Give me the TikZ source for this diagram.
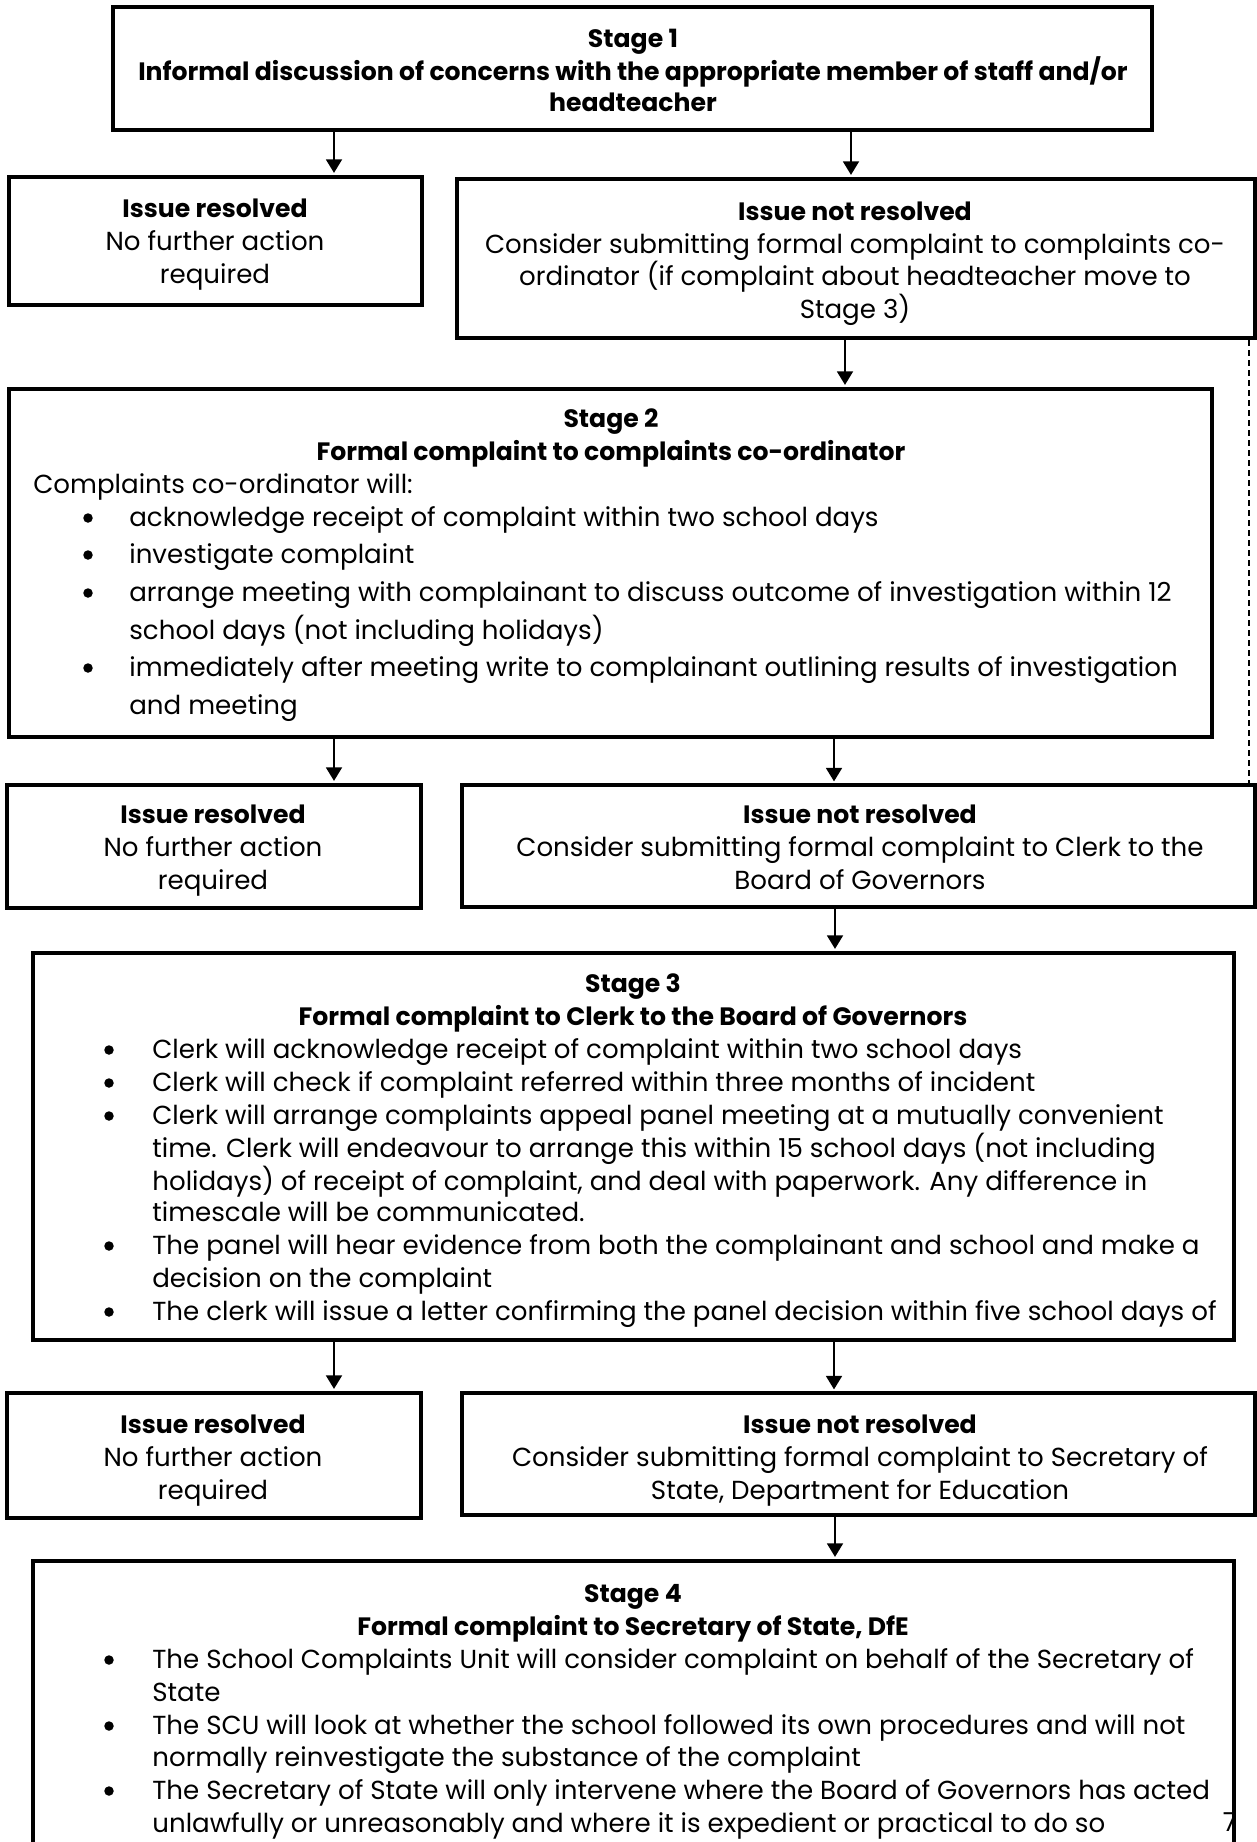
\documentclass[tikz,border=0pt]{standalone}
\usepackage{fontspec}
\setmainfont{Poppins}
\usetikzlibrary{arrows.meta,fit}
\begin{document}
\begin{tikzpicture}[x=0.02cm,y=-0.02cm,
 box/.style={draw, line width=0.085cm, inner sep=0pt},
 thinbox/.style={draw, line width=0.065cm, inner sep=0pt},
 arr/.style={-{Triangle[length=0.27cm,width=0.32cm]}, line width=0.035cm, shorten >=0.04cm},
 dashline/.style={line width=0.03cm, dash pattern=on 0.12cm off 0.08cm},
 t/.style={inner sep=0pt, anchor=base, font=\fontsize{14.85}{18}\selectfont},
 tl/.style={t, anchor=base west},
 tb/.style={t, font=\fontsize{14.3}{18}\selectfont\bfseries},
 bul/.style={circle, fill, inner sep=0pt, minimum size=0.19cm, yshift=0.16cm},
]
\useasboundingbox (0,0) rectangle (1257,1842);
\clip (0,0) rectangle (1257,1842);

% boxes
\node[box, fit={(113,7) (1152,130)}] (s1) {};
\node[box, fit={(9,177) (422,305)}] (r1) {};
\node[box, fit={(457,179) (1255,338)}] (n1) {};
\node[box, fit={(9,389) (1212,737)}] (s2) {};
\node[box, fit={(7,785) (421,908)}] (r2) {};
\node[thinbox, fit={(462,785) (1255,907)}] (n2) {};
\node[box, fit={(33,953) (1234,1340)}] (s3) {};
\node[box, fit={(7,1393) (421,1518)}] (r3) {};
\node[thinbox, fit={(462,1393) (1255,1515)}] (n3) {};
\node[box, fit={(33,1561) (1234,1900)}] (s4) {};

% connector columns
\coordinate (xa) at (334,0);
\coordinate (xb) at (851,0);
\coordinate (xc) at (845,0);
\coordinate (xd) at (834,0);
\coordinate (xe) at (835,0);
\coordinate (xf) at (1249,0);

\draw[arr] (s1.south -| xa) -- (r1.north -| xa);
\draw[arr] (s1.south -| xb) -- (n1.north -| xb);
\draw[arr] (n1.south -| xc) -- (s2.north -| xc);
\draw[arr] (s2.south -| xa) -- (r2.north -| xa);
\draw[arr] (s2.south -| xd) -- (n2.north -| xd);
\draw[arr] (n2.south -| xe) -- (s3.north -| xe);
\draw[arr] (s3.south -| xa) -- (r3.north -| xa);
\draw[arr] (s3.south -| xd) -- (n3.north -| xd);
\draw[arr] (n3.south -| xe) -- (s4.north -| xe);
\draw[dashline] (n1.south -| xf) -- (n2.north -| xf);

% Stage 1
\node[tb] (s1a) at (633,48) {Stage 1};
\node[tb] (s1b) at (633,81) {Informal discussion of concerns with the appropriate member of staff and/or};
\node[tb] (s1c) at (633,112) {headteacher};

% resolved / not resolved 1
\node[tb] (r1a) at (215,217) {Issue resolved};
\node[t] (r1b) at (215,250) {No further action};
\node[t] (r1c) at (215,283) {required};
\node[tb] (n1a) at (855,220) {Issue not resolved};
\node[t] (n1b) at (855,253) {Consider submitting formal complaint to complaints co-};
\node[t] (n1c) at (855,285) {ordinator (if complaint about headteacher move to};
\node[t] (n1d) at (855,318) {Stage 3)};

% Stage 2
\node[tb] (s2a) at (611,427) {Stage 2};
\node[tb] (s2b) at (611,460) {Formal complaint to complaints co-ordinator};
\node[tl] (s2c) at (33,493) {Complaints co-ordinator will:};
\node[bul] (s2p1) at (88,526) {};
\node[bul] (s2p2) at (88,563) {};
\node[bul] (s2p3) at (88,601) {};
\node[bul] (s2p4) at (88,676) {};
\node[tl] (s2d) at (129,526) {acknowledge receipt of complaint within two school days};
\node[tl] (s2e) at (129,563) {investigate complaint};
\node[tl] (s2f) at (129,601) {arrange meeting with complainant to discuss outcome of investigation within 12};
\node[tl] (s2g) at (129,639) {school days (not including holidays)};
\node[tl] (s2h) at (129,676) {immediately after meeting write to complainant outlining results of investigation};
\node[tl] (s2i) at (129,714) {and meeting};

% resolved / not resolved 2
\node[tb] (r2a) at (213,823) {Issue resolved};
\node[t] (r2b) at (213,856) {No further action};
\node[t] (r2c) at (213,889) {required};
\node[tb] (n2a) at (860,823) {Issue not resolved};
\node[t] (n2b) at (860,856) {Consider submitting formal complaint to Clerk to the};
\node[t] (n2c) at (860,889) {Board of Governors};

% Stage 3
\node[tb] (s3a) at (633,992) {Stage 3};
\node[tb] (s3b) at (633,1025) {Formal complaint to Clerk to the Board of Governors};
\node[bul] (s3p1) at (109,1058) {};
\node[bul] (s3p2) at (109,1091) {};
\node[bul] (s3p3) at (109,1124) {};
\node[bul] (s3p4) at (109,1254) {};
\node[bul] (s3p5) at (109,1320) {};
\node[tl] (s3c) at (152,1058) {Clerk will acknowledge receipt of complaint within two school days};
\node[tl] (s3d) at (152,1091) {Clerk will check if complaint referred within three months of incident};
\node[tl] (s3e) at (152,1124) {Clerk will arrange complaints appeal panel meeting at a mutually convenient};
\node[tl] (s3f) at (152,1157) {time. Clerk will endeavour to arrange this within 15 school days (not including};
\node[tl] (s3g) at (152,1190) {holidays) of receipt of complaint, and deal with paperwork. Any difference in};
\node[tl] (s3h) at (152,1221) {timescale will be communicated.};
\node[tl] (s3i) at (152,1254) {The panel will hear evidence from both the complainant and school and make a};
\node[tl] (s3j) at (152,1287) {decision on the complaint};
\node[tl] (s3k) at (152,1320) {The clerk will issue a letter confirming the panel decision within five school days of};

% resolved / not resolved 3
\node[tb] (r3a) at (213,1433) {Issue resolved};
\node[t] (r3b) at (213,1466) {No further action};
\node[t] (r3c) at (213,1499) {required};
\node[tb] (n3a) at (860,1433) {Issue not resolved};
\node[t] (n3b) at (860,1466) {Consider submitting formal complaint to Secretary of};
\node[t] (n3c) at (860,1499) {State, Department for Education};

% Stage 4
\node[tb] (s4a) at (633,1602) {Stage 4};
\node[tb] (s4b) at (633,1635) {Formal complaint to Secretary of State, DfE};
\node[bul] (s4p1) at (109,1668) {};
\node[bul] (s4p2) at (109,1734) {};
\node[bul] (s4p3) at (109,1799) {};
\node[tl] (s4c) at (152,1668) {The School Complaints Unit will consider complaint on behalf of the Secretary of};
\node[tl] (s4d) at (152,1701) {State};
\node[tl] (s4e) at (152,1734) {The SCU will look at whether the school followed its own procedures and will not};
\node[tl] (s4f) at (152,1766) {normally reinvestigate the substance of the complaint};
\node[tl] (s4g) at (152,1799) {The Secretary of State will only intervene where the Board of Governors has acted};
\node[tl] (s4h) at (152,1832) {unlawfully or unreasonably and where it is expedient or practical to do so};

% page number
\node[t] (pg) at (1230,1831) {7};
\end{tikzpicture}
\end{document}
